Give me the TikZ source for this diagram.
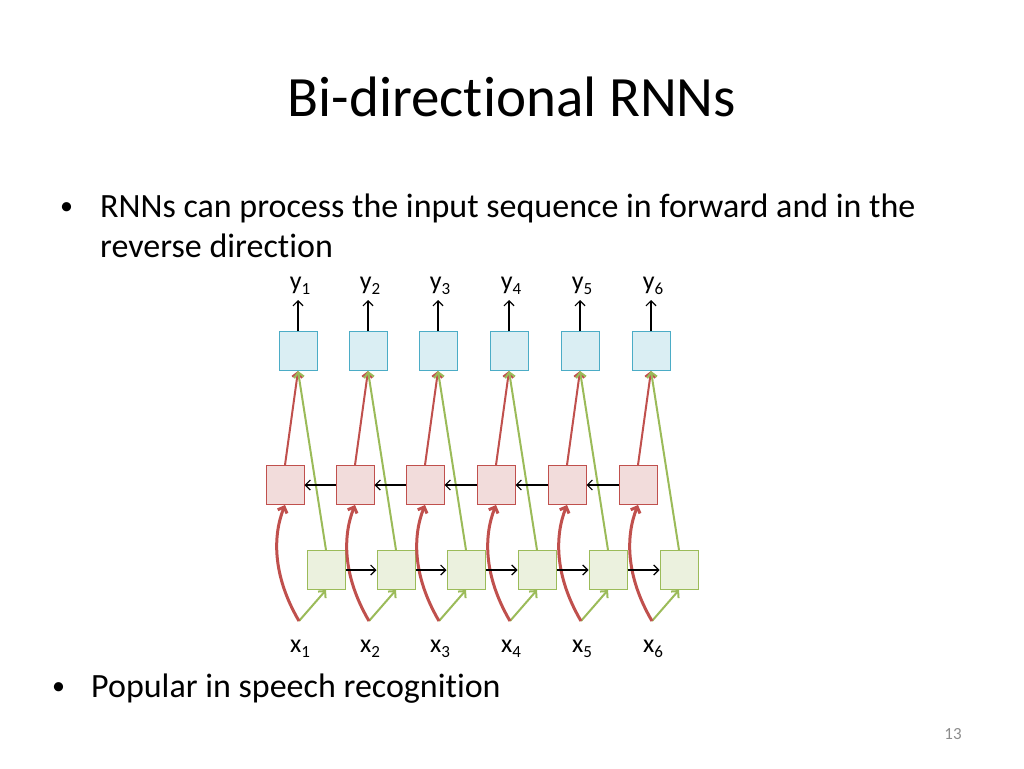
\documentclass[tikz,border=0pt]{standalone}
\usepackage{fontspec}
\setmainfont[Ligatures={NoCommon}]{Carlito}
\usetikzlibrary{arrows.meta}
\definecolor{bfill}{HTML}{DAEEF3}
\definecolor{bdraw}{HTML}{4BACC6}
\definecolor{rfill}{HTML}{F2DCDB}
\definecolor{rdraw}{HTML}{C0504D}
\definecolor{gfill}{HTML}{EBF1DE}
\definecolor{gdraw}{HTML}{9BBB59}
\definecolor{pgnum}{HTML}{8C8C8C}
\newcommand{\mysub}[1]{\raisebox{-5pt}{\fontsize{17}{20}\selectfont #1}}
\begin{document}
\begin{tikzpicture}[x=1pt,y=-1pt,
  cell/.style={minimum width=38pt,minimum height=39pt,inner sep=0pt,line width=1pt},
  bcell/.style={cell,fill=bfill,draw=bdraw},
  rcell/.style={cell,fill=rfill,draw=rdraw},
  gcell/.style={cell,fill=gfill,draw=gdraw},
  tip/.style={-{Straight Barb[length=5pt,width=10pt]}},
  blk/.style={tip,line width=1.2pt,black},
  rarr/.style={tip,line width=2pt,rdraw},
  rcurve/.style={tip,line width=3pt,rdraw},
  garr/.style={tip,line width=2pt,gdraw},
  lab/.style={inner sep=0pt,font=\fontsize{26}{30}\selectfont},
  body/.style={anchor=base west,inner sep=0pt,font=\fontsize{34}{40}\selectfont},
  bull/.style={anchor=base west,inner sep=0pt,font=\fontsize{26}{30}\selectfont}
]
\useasboundingbox (0,0) rectangle (1024,768);
\node[anchor=base,font=\fontsize{57}{66}\selectfont] (title) at (512,116) {Bi-directional RNNs};
\node[bull] (bul1) at (60,214) {•};
\node[body] (t1) at (100,217) {RNNs can process the input sequence in forward and in the};
\node[body] (t2) at (100,257) {reverse direction};
\node[bull] (bul2) at (52,694) {•};
\node[body] (t3) at (91,697) {Popular in speech recognition};
\node[anchor=base,inner sep=0pt,text=pgnum,font=\fontsize{17}{20}\selectfont] (pg) at (953,739) {13};
\foreach \i/\bx in {1/298,2/368,3/438,4/509,5/580,6/651}{
  \node[bcell] (b\i) at (\bx,351) {};
  \node[rcell] (r\i) at (\bx-13,485) {};
  \node[gcell] (g\i) at (\bx+28,570) {};
  \node[lab,anchor=base] (yl\i) at (\bx+2,289) {y\mysub{\i}};
  \node[lab,anchor=base] (xl\i) at (\bx+2,652) {x\mysub{\i}};
  \coordinate (yt\i) at (\bx,300);
  \coordinate (s\i) at (\bx+1,621);
  \draw[blk] (b\i.north) -- (yt\i);
  \draw[rarr] (r\i.north) -- (b\i.south);
  \draw[garr] (g\i.north) -- (b\i.south);
  \draw[garr] (s\i) -- (g\i.south);
  \draw[rcurve] (s\i) .. controls (\bx-26,575) and (\bx-25,535) .. (r\i.south);
}
\foreach \i/\j in {1/2,2/3,3/4,4/5,5/6}{
  \draw[blk] (g\i.east) -- (g\j.west);
  \draw[blk] (r\j.west) -- (r\i.east);
}
\end{tikzpicture}
\end{document}
